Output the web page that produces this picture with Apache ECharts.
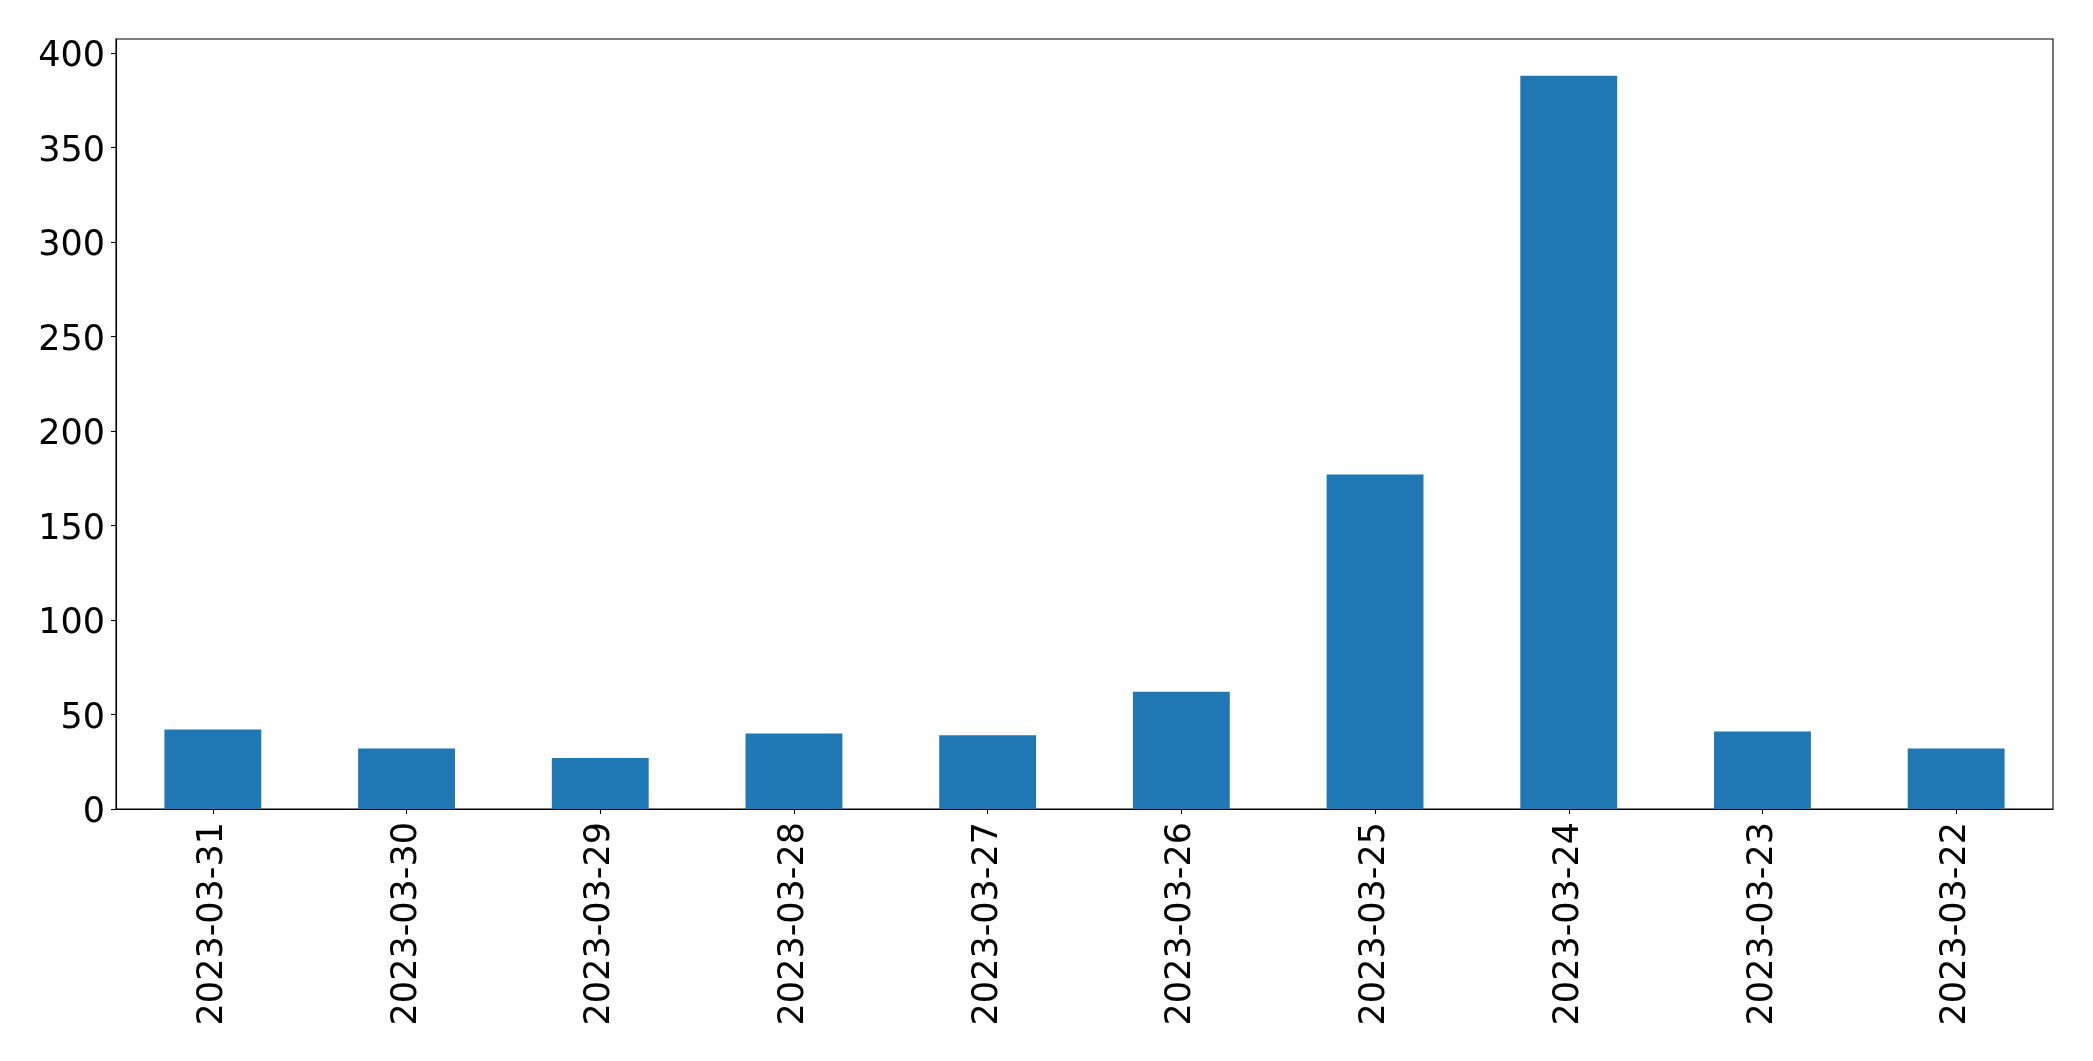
<!DOCTYPE html>
<html>
<head>
<meta charset="utf-8">
<script src="https://cdn.jsdelivr.net/npm/echarts@6/dist/echarts.min.js"></script>
<style>
html,body{margin:0;padding:0;background:#fff;}
#chart{width:2093px;height:1061px;}
</style>
</head>
<body>
<div id="chart"></div>
<script>
const categories = ['2023-03-31','2023-03-30','2023-03-29','2023-03-28','2023-03-27','2023-03-26','2023-03-25','2023-03-24','2023-03-23','2023-03-22'];
const values = [42, 32, 27, 40, 39, 62, 177, 388, 41, 32];
const yTicks = [0, 50, 100, 150, 200, 250, 300, 350, 400];

const chart = echarts.init(document.getElementById('chart'), null, {renderer: 'canvas'});
const font = 'DejaVu Sans';
chart.setOption({
  animation: false,
  backgroundColor: '#ffffff',
  grid: {
    left: 116, right: 40, top: 39, bottom: 252,
    containLabel: false,
    show: true, borderColor: '#000', borderWidth: 1.1, backgroundColor: 'transparent'
  },
  xAxis: {
    type: 'category',
    data: categories,
    boundaryGap: true,
    axisLine: {show: true, lineStyle: {color: '#000', width: 1.1}},
    axisTick: {show: true, alignWithLabel: true, length: 5, lineStyle: {color: '#000', width: 1.1}},
    axisLabel: {rotate: 90, margin: 13, color: '#000', fontFamily: font, fontSize: 35, interval: 0},
    splitLine: {show: false}
  },
  yAxis: {
    type: 'value',
    min: 0,
    max: 407.4,
    interval: 50,
    axisLine: {show: true, lineStyle: {color: '#000', width: 1.1}},
    axisTick: {show: true, length: 5, lineStyle: {color: '#000', width: 1.1}, customValues: yTicks},
    axisLabel: {
      margin: 11, color: '#000', fontFamily: font, fontSize: 35, customValues: yTicks,
      formatter: '{v|{value}}',
      rich: {v: {color: '#000', fontFamily: font, fontSize: 35, padding: [8, 0, 0, 0]}}
    },
    splitLine: {show: false}
  },
  series: [{
    type: 'bar',
    data: values,
    barWidth: '50%',
    itemStyle: {color: '#1f77b4'}
  }]
});
</script>
</body>
</html>
